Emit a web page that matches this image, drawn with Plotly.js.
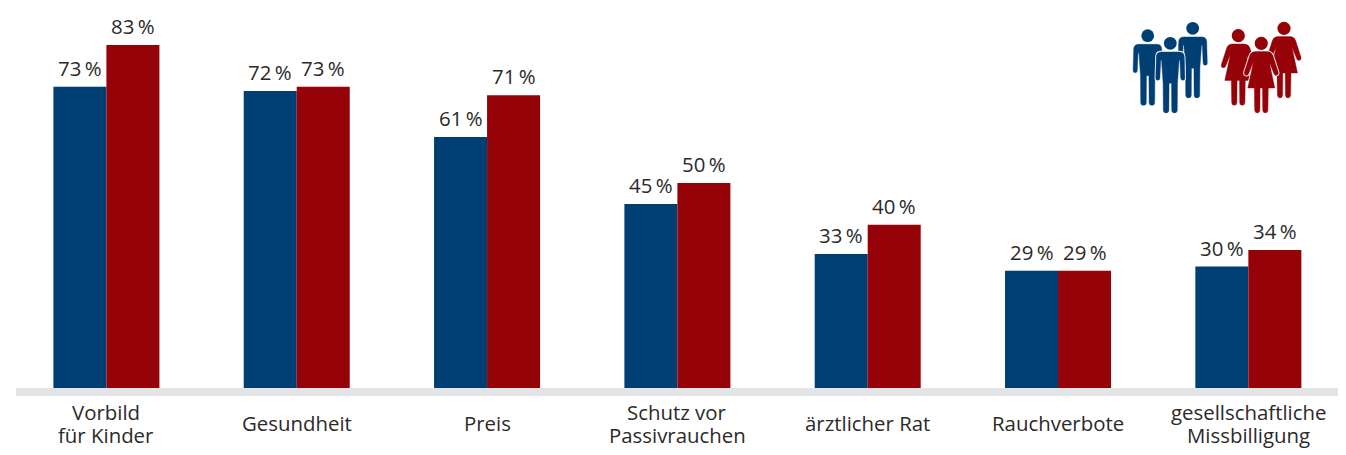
<!DOCTYPE html>
<html>
<head>
<meta charset="utf-8">
<script src="https://cdn.plot.ly/plotly-3.0.1.min.js"></script>
<style>html,body{margin:0;padding:0;background:#fff;overflow:hidden}</style>
</head>
<body>
<div id="chart" style="width:1346px;height:455px"></div>
<script>
var categories = [["Vorbild", "für Kinder"], ["Gesundheit"], ["Preis"], ["Schutz vor", "Passivrauchen"], ["ärztlicher Rat"], ["Rauchverbote"], ["gesellschaftliche", "Missbilligung"]];
var men = [73, 72, 61, 45, 33, 29, 30];
var women = [83, 73, 71, 50, 40, 29, 34];
var BLUE = "#003f74", RED = "#950309", TEXT = "#2b2a29", FONT = "'Open Sans', sans-serif";
var W = 1346, H = 455, L = 16, R = 1338, T = 8, B = 388;
var PX_PER_UNIT = 4.18, BASE_HIDDEN = 4, BARGAP = 0.443;
var positions = categories.map(function (c, i) { return i; });
var pct = function (v) { return v + "\u2009%"; };

function bars(name, y, color) {
  return {
    type: "bar", name: name, x: positions, y: y, marker: {color: color, line: {width: 4, color: "rgba(0,0,0,0)"}},
    cliponaxis: false, hoverinfo: "skip"
  };
}

var px = function (x) { return (x - L) / (R - L); };
var py = function (y) { return (B - y) / (B - T); };
function toPath(cx, cy, cmds) {
  return cmds.map(function (c) {
    var s = c[0];
    for (var i = 1; i < c.length; i += 2) s += (i > 1 ? " " : "") + px(cx + c[i]).toFixed(5) + "," + py(cy + c[i + 1]).toFixed(5);
    return s;
  }).join(" ") + " Z";
}
var manShape = [
  ["M",-9,8.6],["L",9,8.6],["Q",13.5,8.6,14,13],["L",14.6,35],["Q",14.6,37,12.5,37],["Q",10.6,37,10.4,35],["L",9.6,17],["L",8.8,17],
  ["L",7.2,40],["L",7,67],["Q",6.8,69.6,4.2,69.6],["Q",1.6,69.6,1.4,67],["L",1.2,40],["L",-1.2,40],["L",-1.4,67],["Q",-1.6,69.6,-4.2,69.6],["Q",-6.8,69.6,-7,67],
  ["L",-7.2,40],["L",-8.8,17],["L",-9.6,17],["L",-10.4,35],["Q",-10.6,37,-12.5,37],["Q",-14.6,37,-14.6,35],["L",-14,13],["Q",-13.5,8.6,-9,8.6]
];
var womanShape = [
  ["M",-6,8.3],["L",6,8.3],["Q",10,8.3,11.5,12],["L",17,29],["Q",17.5,31.5,15.5,32],["Q",13.5,32.5,12.7,30.5],["L",8,19],
  ["L",13.5,44.7],["L",7,44.7],["L",6.6,67],["Q",6.4,69.6,4,69.6],["Q",1.6,69.6,1.4,67],["L",1.2,44.7],["L",-1.2,44.7],["L",-1.4,67],["Q",-1.6,69.6,-4,69.6],["Q",-6.4,69.6,-6.6,67],["L",-7,44.7],["L",-13.5,44.7],
  ["L",-8,19],["L",-12.7,30.5],["Q",-13.5,32.5,-15.5,32],["Q",-17.5,31.5,-17,29],["L",-11.5,12],["Q",-10,8.3,-6,8.3]
];
function figure(cx, cy, r, outline, color, front) {
  var body = toPath(cx, cy, outline), out = [];
  if (front) out.push({type: "path", xref: "paper", yref: "paper", path: body, fillcolor: "#ffffff", line: {color: "#ffffff", width: 2.2}, layer: "above"});
  out.push({type: "path", xref: "paper", yref: "paper", path: body, fillcolor: color, line: {color: color, width: 0.4}, layer: "above"});
  out.push({type: "circle", xref: "paper", yref: "paper", x0: px(cx - r), x1: px(cx + r), y0: py(cy + r), y1: py(cy - r), fillcolor: color, line: {width: 0}, layer: "above"});
  return out;
}
var shapes = [].concat(
  figure(1147.7, 35.7, 6.4, manShape, BLUE), figure(1192.7, 28.3, 6.4, manShape, BLUE), figure(1170.3, 43.3, 6.4, manShape, BLUE, true),
  figure(1238.3, 35.7, 6.6, womanShape, RED), figure(1284, 28.3, 6.6, womanShape, RED), figure(1261.3, 43.3, 6.6, womanShape, RED, true)
);

var annotations = [];
var font = {family: FONT, size: 20.4, color: TEXT};
categories.forEach(function (lines, i) {
  lines.forEach(function (line, j) {
    annotations.push({x: i, xref: "x", y: py(423.5 + (j - (lines.length - 1) / 2) * 22), yref: "paper", text: line, showarrow: false,
      xanchor: "center", yanchor: "middle", font: font});
  });
});
var barOffset = (1 - BARGAP) / 4;
[[men, -barOffset], [women, barOffset]].forEach(function (s) {
  s[0].forEach(function (v, i) {
    annotations.push({x: i + s[1], xref: "x", y: v, yref: "y", yshift: 19, text: pct(v), showarrow: false,
      xanchor: "center", yanchor: "middle", font: font});
  });
});

Plotly.newPlot("chart", [bars("Männer", men, BLUE), bars("Frauen", women, RED)], {
  width: W, height: H, barmode: "group", bargap: BARGAP, bargroupgap: 0, showlegend: false,
  paper_bgcolor: "#ffffff", plot_bgcolor: "#ffffff", shapes: shapes, annotations: annotations,
  margin: {l: L, r: W - R, t: T, b: H - B, pad: 0},
  xaxis: {type: "linear", range: [-0.475, 6.471], showticklabels: false, ticks: "", showgrid: false, zeroline: false,
          showline: true, linecolor: "#e3e4e5", linewidth: 8},
  yaxis: {range: [BASE_HIDDEN / PX_PER_UNIT, (BASE_HIDDEN + B - T) / PX_PER_UNIT], visible: false, showgrid: false, zeroline: false}
}, {displayModeBar: false, staticPlot: true});
</script>
</body>
</html>
